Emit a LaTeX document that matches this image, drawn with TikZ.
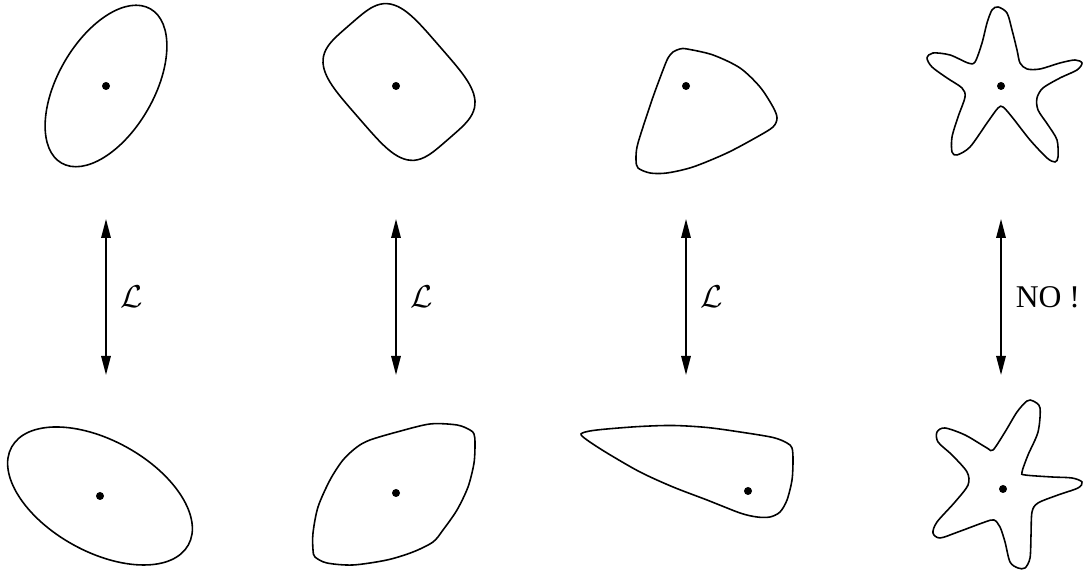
\documentclass[tikz,border=0pt]{standalone}
\usepackage{fontspec}
\setmainfont{Liberation Serif}
\usepackage{amsmath}
\usetikzlibrary{arrows.meta}

\begin{document}
\begin{tikzpicture}[font=\small,
	contour/.style={black, line width=0.45pt},
	pto/.style={circle, fill=black, inner sep=0pt, minimum size=0.8mm},
	fl/.style={{Triangle[length=1.9mm, width=0.95mm]}-{Triangle[length=1.9mm, width=0.95mm]}, line width=0.45pt},
	lab/.style={right=0.4mm, inner sep=1mm}]

	\useasboundingbox (0,0) rectangle (10.83,5.73);

	% puntos marcados
	\node[pto] (p1) at (1.06,4.87) {};
	\node[pto] (p2) at (3.96,4.87) {};
	\node[pto] (p3) at (6.86,4.87) {};
	\node[pto] (p4) at (10.01,4.87) {};
	\node[pto] (q1) at (1.00,0.77) {};
	\node[pto] (q2) at (3.96,0.80) {};
	\node[pto] (q3) at (7.48,0.82) {};
	\node[pto] (q4) at (10.03,0.84) {};

	% dominios de arriba
	\begin{scope}[shift={(p1)}, rotate=60]
		\draw[contour] (0,0) ellipse [x radius=0.89, y radius=0.48];
	\end{scope}
	\begin{scope}[shift={(3.99,4.91)}, rotate=-49]
		\draw[contour] plot[domain=0:355, samples=72, smooth cycle]
			(\x:{1/((cos(\x)*cos(\x)*cos(\x)*cos(\x)/0.325+sin(\x)*sin(\x)*sin(\x)*sin(\x)/0.085)^0.25)});
	\end{scope}
	\draw[contour] plot[smooth cycle] coordinates {(6.73,5.21) (6.80,5.24) (6.87,5.24) (7.13,5.18)
		(7.40,5.05) (7.60,4.86) (7.73,4.66) (7.77,4.55) (7.73,4.46) (7.57,4.36) (7.27,4.20) (6.93,4.06)
		(6.67,4.00) (6.50,4.00) (6.38,4.05) (6.36,4.13) (6.37,4.26) (6.43,4.46) (6.53,4.76) (6.63,5.03) (6.68,5.15)};
	\draw[contour] plot[smooth cycle] coordinates {(9.98,5.66) (10.07,5.60) (10.12,5.43) (10.17,5.23)
		(10.20,5.10) (10.27,5.04) (10.40,5.04) (10.60,5.10) (10.75,5.13) (10.82,5.10) (10.77,5.03)
		(10.60,4.95) (10.43,4.85) (10.37,4.75) (10.38,4.63) (10.48,4.48) (10.57,4.33) (10.58,4.16)
		(10.55,4.11) (10.47,4.15) (10.30,4.33) (10.12,4.56) (10.03,4.66) (9.98,4.65) (9.87,4.50)
		(9.70,4.26) (9.57,4.18) (9.52,4.21) (9.52,4.36) (9.58,4.56) (9.65,4.76) (9.62,4.85)
		(9.47,4.95) (9.32,5.06) (9.27,5.15) (9.33,5.20) (9.50,5.18) (9.68,5.10) (9.75,5.11)
		(9.82,5.30) (9.87,5.50) (9.92,5.63)};

	% dominios de abajo
	\begin{scope}[shift={(q1)}, rotate=-29]
		\draw[contour] (0,0) ellipse [x radius=1.01, y radius=0.556];
	\end{scope}
	\draw[contour] plot[smooth cycle] coordinates {(4.70,1.43) (4.74,1.39) (4.75,1.30) (4.74,1.10)
		(4.68,0.86) (4.57,0.63) (4.43,0.43) (4.33,0.31) (4.13,0.21) (3.87,0.13) (3.53,0.08) (3.27,0.10)
		(3.15,0.16) (3.13,0.23) (3.13,0.40) (3.18,0.66) (3.30,0.93) (3.43,1.13) (3.57,1.26) (3.70,1.33)
		(3.97,1.41) (4.30,1.49) (4.57,1.48)};
	\draw[contour] plot[smooth cycle] coordinates {(5.81,1.39) (5.90,1.42) (6.07,1.44) (6.40,1.465)
		(6.73,1.475) (7.07,1.455) (7.40,1.41) (7.73,1.355) (7.87,1.30) (7.92,1.25) (7.93,1.13) (7.92,0.93)
		(7.87,0.73) (7.80,0.61) (7.70,0.56) (7.57,0.56) (7.40,0.60) (7.07,0.73) (6.73,0.86) (6.40,1.01)
		(6.07,1.20) (5.87,1.33)};
	\draw[contour] plot[smooth cycle] coordinates {(10.33,1.72) (10.40,1.65) (10.38,1.41) (10.28,1.18)
		(10.22,1.01) (10.25,0.98) (10.52,0.96) (10.72,0.95) (10.82,0.91) (10.78,0.85) (10.58,0.78)
		(10.38,0.70) (10.32,0.61) (10.31,0.38) (10.30,0.15) (10.25,0.05) (10.18,0.05) (10.10,0.11)
		(10.05,0.31) (10.00,0.46) (9.94,0.53) (9.85,0.51) (9.58,0.41) (9.40,0.35) (9.33,0.40)
		(9.37,0.51) (9.55,0.71) (9.68,0.88) (9.67,1.01) (9.52,1.18) (9.38,1.31) (9.37,1.41)
		(9.45,1.45) (9.65,1.38) (9.87,1.25) (9.93,1.23) (10.05,1.41) (10.17,1.61) (10.27,1.72)};

	% flechas
	\foreach \i/\x/\t in {1/1.06/{$\mathcal{L}$}, 2/3.96/{$\mathcal{L}$}, 3/6.86/{$\mathcal{L}$}, 4/10.01/{NO !}}{
		\coordinate (up\i) at (\x,3.54);
		\coordinate (dn\i) at (\x,1.98);
		\draw[fl] (dn\i) -- node[lab] (l\i) {\t} (up\i);
	}
\end{tikzpicture}
\end{document}
